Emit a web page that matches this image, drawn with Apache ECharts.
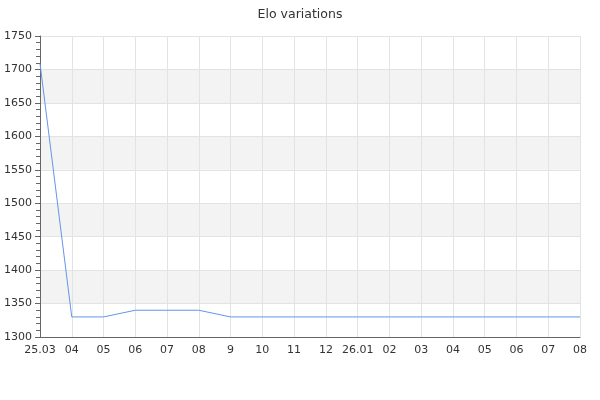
<!DOCTYPE html>
<html>
<head>
<meta charset="utf-8">
<script src="https://cdn.jsdelivr.net/npm/echarts@6/dist/echarts.min.js"></script>
<style>html,body{margin:0;padding:0;background:#fff;}#c{width:600px;height:400px;}</style>
</head>
<body>
<div id="c"></div>
<script>
var categories = ['25.03','04','05','06','07','08','9','10','11','12','26.01','02','03','04','05','06','07','08'];
var eloValues = [1709,1330,1330,1340,1340,1340,1330,1330,1330,1330,1330,1330,1330,1330,1330,1330,1330,1330];
var yTicks = {min:1300, max:1750, interval:50};

var chart = echarts.init(document.getElementById('c'));
chart.setOption({
  animation:false,
  backgroundColor:'#fff',
  textStyle:{fontFamily:'DejaVu Sans'},
  title:{text:'Elo variations', left:'center', top:3,
    textStyle:{fontSize:12.5, fontWeight:'normal', color:'#333', fontFamily:'DejaVu Sans'}},
  grid:{left:40, right:20, top:36, bottom:63},
  xAxis:{type:'category', data:categories, boundaryGap:false,
    axisLine:{lineStyle:{color:'#666'}},
    axisTick:{show:false},
    axisLabel:{interval:0, color:'#333', fontSize:11, margin:8, fontFamily:'DejaVu Sans'},
    splitLine:{show:true, interval:0, lineStyle:{color:'#e3e3e3'}}},
  yAxis:{type:'value', min:yTicks.min, max:yTicks.max, interval:yTicks.interval,
    axisLine:{show:true, lineStyle:{color:'#666'}},
    axisTick:{show:true, length:5, lineStyle:{color:'#666'}},
    minorTick:{show:true, splitNumber:5, length:4, lineStyle:{color:'#666'}},
    axisLabel:{color:'#333', fontSize:11, margin:8, fontFamily:'DejaVu Sans',
      formatter:function(v){return String(v);}},
    splitLine:{show:true, lineStyle:{color:'#e3e3e3'}},
    splitArea:{show:true, areaStyle:{color:['#ffffff','#f3f3f3']}}},
  series:[{type:'line', data:eloValues, showSymbol:false, symbol:'none',
    lineStyle:{color:'#6495ed', width:1}, itemStyle:{color:'#6495ed'}}]
});
</script>
</body>
</html>
